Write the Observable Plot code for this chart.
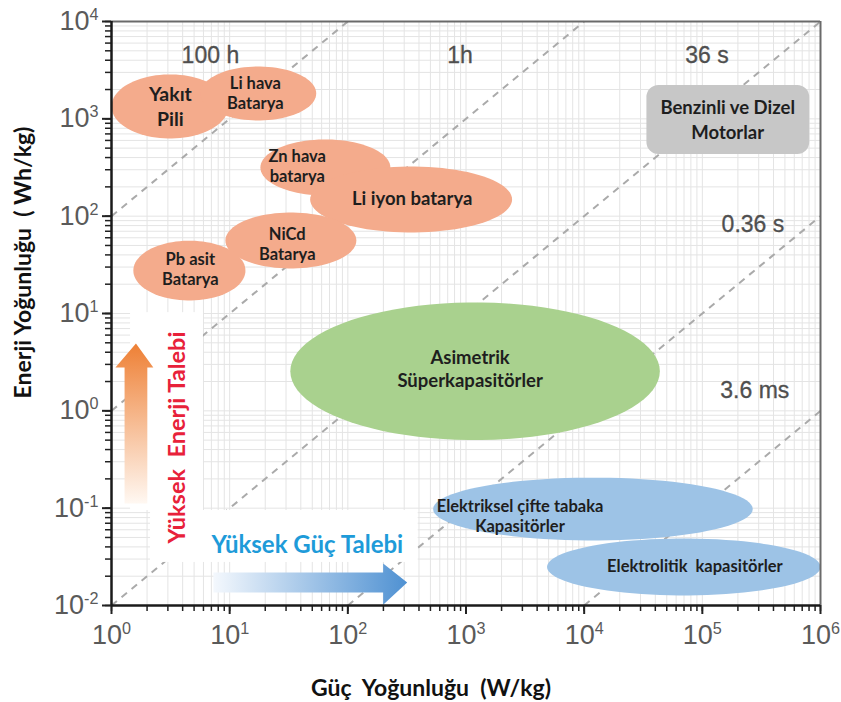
<!DOCTYPE html>
<html>
<head>
<meta charset="utf-8">
<script src="https://cdn.jsdelivr.net/npm/d3@7"></script>
<script src="https://cdn.jsdelivr.net/npm/@observablehq/plot@0.6"></script>
<style>
  body { margin: 0; background: #fff; }
  #chart svg text { white-space: pre; }
</style>
</head>
<body>
<div id="chart"></div>
<script>
// Ragone diagram: energy density vs power density of storage technologies.

// Axis ticks (decades)
const powerDecades = [1, 10, 100, 1e3, 1e4, 1e5, 1e6];
const energyDecades = [1e-2, 1e-1, 1, 10, 100, 1e3, 1e4];

// Technology regions: extent in power (W/kg) and energy (Wh/kg), and label position
const regionLabel = [
  "Yakıt\nPili", "Li hava\nBatarya", "Zn hava\nbatarya", "Li iyon batarya",
  "NiCd\nBatarya", "Pb asit\nBatarya", "Asimetrik\nSüperkapasitörler",
  "Elektriksel çifte tabaka\nKapasitörler", "Elektrolitik  kapasitörler"
];
const regionKind = ["batarya", "batarya", "batarya", "batarya", "batarya", "batarya",
  "asimetrik", "kapasitör", "kapasitör"];
const powerMin = [1.0, 5.65, 18.2, 48, 9.2, 1.53, 32.6, 527, 4850];
const powerMax = [9.75, 54, 229, 2455, 118, 13.6, 43700, 267000, 1e6];
const energyMin = [628, 962, 163, 68, 29, 13.6, 0.50, 0.0466, 0.0127];
const energyMax = [2860, 3450, 614, 324, 109, 56, 13, 0.206, 0.0488];
const labelPower = [3.15, 16.5, 37.3, 350, 30.7, 4.65, 1083, 2865, 86500];
const labelEnergy = [1370, 1866, 332, 156, 52.4, 29, 2.72, 0.084, 0.0258];
const labelSize = [19.5, 16.5, 16.5, 18.5, 16.5, 16.5, 18.5, 16.5, 16.5];

// Combustion engines box
const engineLabel = "Benzinli ve Dizel\nMotorlar";
const enginePower = [33960, 811000];
const engineEnergy = [430, 2200];
const engineLabelAt = [164000, 1008];

// Constant discharge-time lines: energy / power = hours
const durationHours = [100, 1, 0.01, 1e-4, 1e-6];
const durationLabel = ["100 h", "1h", "36 s", "0.36 s", "3.6 ms"];
const durationLabelPower = [6.87, 891, 109600, 268000, 278000];
const durationLabelEnergy = [4480, 4480, 4480, 82, 1.62];

// Demand arrows
const energyArrowPower = {shaft: [1.29, 2.01], head: [1.08, 2.26], tip: 1.61};
const energyArrowEnergy = {from: 0.112, headBase: 2.79, tip: 4.92};
const powerArrowPower = {from: 7.28, headBase: 199, tip: 318};
const powerArrowEnergy = {shaft: [0.0136, 0.0218], head: [0.0102, 0.027], tip: 0.0172};
const energyDemandText = "Yüksek  Enerji Talebi";
const energyDemandAt = [3.61, 0.532];
const powerDemandText = "Yüksek Güç Talebi";
const powerDemandAt = [45.4, 0.0413];
// Backing panels behind the demand annotations
const panelPower = [[1.45, 6.0], [2.14, 394]];
const panelEnergy = [[0.0946, 10.2], [0.0277, 0.0946]];

const xMin = powerDecades[0], xMax = powerDecades[powerDecades.length - 1];
const yMin = energyDecades[0], yMax = energyDecades[energyDecades.length - 1];

// 1..9 subdivisions of each decade for the grid and minor ticks
function subdivisions(decades) {
  const out = [];
  for (let i = 0; i < decades.length - 1; i++)
    for (let m = 1; m <= 9; m++) out.push(decades[i] * m);
  out.push(decades[decades.length - 1]);
  return out;
}
const gridPower = subdivisions(powerDecades);
const gridEnergy = subdivisions(energyDecades);

// Ellipse outlines, elliptical in log-log space
const regionOutline = regionLabel.flatMap((label, i) => {
  const lx0 = Math.log10(powerMin[i]), lx1 = Math.log10(powerMax[i]);
  const ly0 = Math.log10(energyMin[i]), ly1 = Math.log10(energyMax[i]);
  const cx = (lx0 + lx1) / 2, cy = (ly0 + ly1) / 2;
  const rx = (lx1 - lx0) / 2, ry = (ly1 - ly0) / 2;
  return d3.range(0, 361, 4).map(a => ({
    region: i, kind: regionKind[i],
    power: 10 ** (cx + rx * Math.cos(a * Math.PI / 180)),
    energy: 10 ** (cy + ry * Math.sin(a * Math.PI / 180))
  }));
});
const regions = regionLabel.map((label, i) => ({
  label, power: labelPower[i], energy: labelEnergy[i], size: labelSize[i]
}));

const durations = durationHours.map((h, i) => {
  const p0 = Math.max(xMin, yMin / h), p1 = Math.min(xMax, yMax / h);
  return {h, p0, p1, e0: p0 * h, e1: p1 * h,
    label: durationLabel[i], lp: durationLabelPower[i], le: durationLabelEnergy[i]};
});

const energyArrow = [
  [energyArrowPower.shaft[0], energyArrowEnergy.from],
  [energyArrowPower.shaft[0], energyArrowEnergy.headBase],
  [energyArrowPower.head[0], energyArrowEnergy.headBase],
  [energyArrowPower.tip, energyArrowEnergy.tip],
  [energyArrowPower.head[1], energyArrowEnergy.headBase],
  [energyArrowPower.shaft[1], energyArrowEnergy.headBase],
  [energyArrowPower.shaft[1], energyArrowEnergy.from],
  [energyArrowPower.shaft[0], energyArrowEnergy.from]
];
const powerArrow = [
  [powerArrowPower.from, powerArrowEnergy.shaft[0]],
  [powerArrowPower.headBase, powerArrowEnergy.shaft[0]],
  [powerArrowPower.headBase, powerArrowEnergy.head[0]],
  [powerArrowPower.tip, powerArrowEnergy.tip],
  [powerArrowPower.headBase, powerArrowEnergy.head[1]],
  [powerArrowPower.headBase, powerArrowEnergy.shaft[1]],
  [powerArrowPower.from, powerArrowEnergy.shaft[1]],
  [powerArrowPower.from, powerArrowEnergy.shaft[0]]
];
const panels = panelPower.map((p, i) => ({p0: p[0], p1: p[1], e0: panelEnergy[i][0], e1: panelEnergy[i][1]}));

const tickFont = "'Liberation Sans', Arial, sans-serif";
const labelFont = "Lato, 'Open Sans', sans-serif";
const expFormat = d => `10^${Math.round(Math.log10(d))}`;
const kindFill = {batarya: "#f4ab8c", asimetrik: "#a9d18e", "kapasitör": "#9dc3e6"};

const chart = Plot.plot({
  width: 841,
  height: 702,
  marginLeft: 111,
  marginRight: 21,
  marginTop: 21,
  marginBottom: 97,
  x: {type: "log", domain: [xMin, xMax], label: null},
  y: {type: "log", domain: [yMin, yMax], label: null},
  style: {fontFamily: labelFont, background: "#fff", overflow: "visible"},
  marks: [
    // grid
    Plot.ruleX(gridPower, {stroke: "#e4e4e4", strokeWidth: 1}),
    Plot.ruleY(gridEnergy, {stroke: "#e4e4e4", strokeWidth: 1}),
    // constant-time lines
    Plot.link(durations, {x1: "p0", y1: "e0", x2: "p1", y2: "e1",
      stroke: "#aaaaaa", strokeWidth: 2, strokeDasharray: "7,6"}),
    Plot.text(durations, {x: "lp", y: "le", text: "label", fontFamily: tickFont,
      fontSize: 23, fill: "#4f4f4f", stroke: "#4f4f4f", strokeWidth: 0.3}),
    // panels behind the demand annotations
    Plot.rect(panels, {x1: "p0", x2: "p1", y1: "e0", y2: "e1", fill: "#fff"}),
    // technology regions
    ...Object.keys(kindFill).map(kind =>
      Plot.line(regionOutline.filter(d => d.kind === kind), {
        x: "power", y: "energy", z: "region", fill: kindFill[kind], stroke: "none", curve: "linear"
      })),
    Plot.rect([{p0: enginePower[0], p1: enginePower[1], e0: engineEnergy[0], e1: engineEnergy[1]}],
      {x1: "p0", x2: "p1", y1: "e0", y2: "e1", fill: "#c7c7c7", rx: 12}),
    Plot.text(regions, {x: "power", y: "energy", text: "label", fontSize: "size",
      fontWeight: "bold", fill: "#1e1e1e", lineHeight: 1.25}),
    Plot.text([engineLabel], {x: () => engineLabelAt[0], y: () => engineLabelAt[1],
      fontSize: 18.5, fontWeight: "bold", fill: "#1e1e1e", lineHeight: 1.35}),
    // demand arrows and captions
    Plot.line(energyArrow, {x: d => d[0], y: d => d[1], fill: "url(#energyGradient)", stroke: "none"}),
    Plot.line(powerArrow, {x: d => d[0], y: d => d[1], fill: "url(#powerGradient)", stroke: "none"}),
    Plot.text([energyDemandText], {x: () => energyDemandAt[0], y: () => energyDemandAt[1],
      rotate: -90, fontSize: 23.5, fontWeight: "bold", fill: "#e8213a"}),
    Plot.text([powerDemandText], {x: () => powerDemandAt[0], y: () => powerDemandAt[1],
      fontSize: 24, fontWeight: "bold", fill: "#1e9bd9"}),
    // frame
    Plot.ruleY([yMax], {stroke: "#6a6a6a", strokeWidth: 2}),
    Plot.ruleX([xMax], {stroke: "#6a6a6a", strokeWidth: 2}),
    // axes
    Plot.axisX(gridPower, {tickSize: 6, tickFormat: () => "", stroke: "#222", strokeWidth: 1.5, label: null}),
    Plot.axisX(powerDecades, {tickSize: 9, tickPadding: 10, tickFormat: expFormat, fontSize: 27,
      fontFamily: tickFont, stroke: "#222", strokeWidth: 2, fill: "#5a5a5a", label: null}),
    Plot.axisY(gridEnergy, {tickSize: 6, tickFormat: () => "", stroke: "#222", strokeWidth: 1.5, label: null}),
    Plot.axisY(energyDecades, {tickSize: 9, tickPadding: 4, tickFormat: expFormat, fontSize: 27,
      fontFamily: tickFont, stroke: "#222", strokeWidth: 2, fill: "#5a5a5a", label: null}),
    Plot.ruleY([yMin], {stroke: "#1a1a1a", strokeWidth: 2.5}),
    Plot.ruleX([xMin], {stroke: "#1a1a1a", strokeWidth: 2.5}),
    // axis titles
    Plot.text(["Güç  Yoğunluğu  (W/kg)"], {frameAnchor: "bottom", textAnchor: "middle", lineAnchor: "middle",
      dx: -35, dy: 83, fontSize: 23, fontWeight: "bold", fill: "#111"}),
    Plot.text(["Enerji Yoğunluğu  ( Wh/kg)"], {frameAnchor: "left", textAnchor: "middle", lineAnchor: "middle",
      rotate: -90, dx: -88, dy: -51, fontSize: 23, fontWeight: "bold", fill: "#111"})
  ]
});

// gradients for the arrows
const svg = d3.select(chart);
const defs = svg.insert("defs", ":first-child");
const eg = defs.append("linearGradient").attr("id", "energyGradient")
  .attr("x1", 0).attr("y1", 1).attr("x2", 0).attr("y2", 0);
eg.append("stop").attr("offset", "0%").attr("stop-color", "#fff8f2");
eg.append("stop").attr("offset", "100%").attr("stop-color", "#ee8035");
const pg = defs.append("linearGradient").attr("id", "powerGradient")
  .attr("x1", 0).attr("y1", 0).attr("x2", 1).attr("y2", 0);
pg.append("stop").attr("offset", "0%").attr("stop-color", "#f4f8fd");
pg.append("stop").attr("offset", "100%").attr("stop-color", "#4f91d2");

// superscript exponents on the decade tick labels
svg.selectAll("text").each(function () {
  const m = /^10\^(-?\d+)$/.exec(this.textContent);
  if (!m) return;
  const t = d3.select(this);
  t.text("10");
  t.append("tspan").attr("dy", "-0.62em").attr("font-size", "0.6em").text(m[1]);
});

document.getElementById("chart").append(chart);
</script>
</body>
</html>
